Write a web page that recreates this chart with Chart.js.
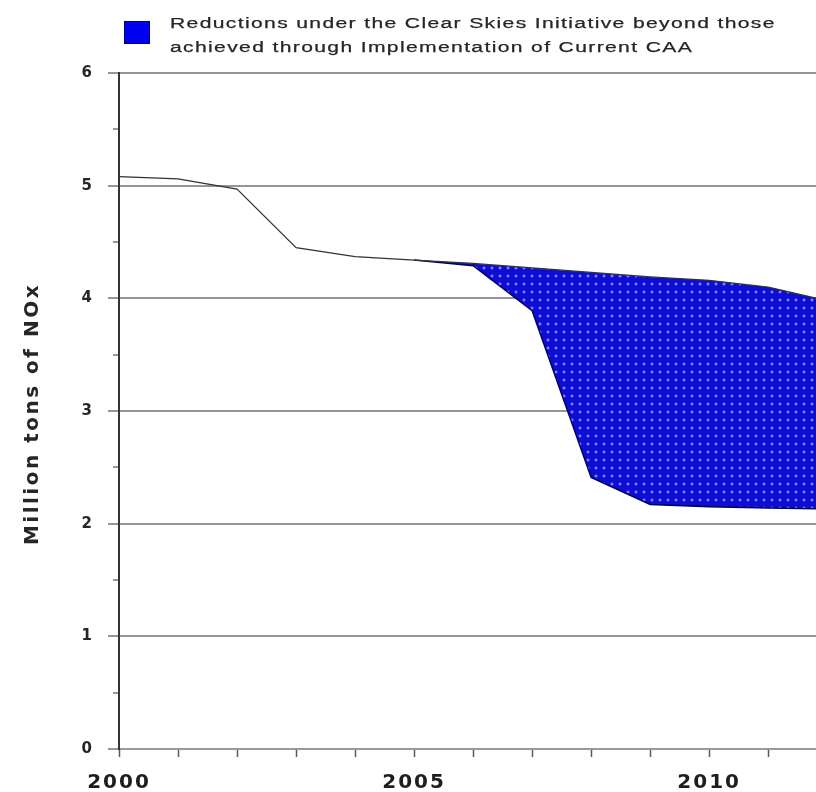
<!DOCTYPE html>
<html>
<head>
    <meta charset="UTF-8">
    <title>Clear Skies NOx Reductions</title>
    <script src="https://cdn.jsdelivr.net/npm/chart.js"></script>
    <style>
        body { margin: 0; background: #fff; }
        #wrap { position: relative; width: 816px; height: 792px; }
        #legend {
            position: absolute; left: 124px; top: 11px;
            font-family: "Liberation Sans", Arial, sans-serif;
            font-size: 15.5px; line-height: 24px;
            color: #262626;
        }
        #legend .box {
            position: absolute; left: 0; top: 10px; width: 24px; height: 21px;
            background: #0000f2; border: 1px solid #00007a;
        }
        #legend .txt {
            position: absolute; left: 46px; top: 0; white-space: nowrap;
            letter-spacing: 1px;
            transform: scaleX(1.36); transform-origin: left top;
            -webkit-text-stroke: 0.25px #262626;
        }
    </style>
</head>
<body>
<div id="wrap">
    <canvas id="nox-chart" width="816" height="792"></canvas>
    <div id="legend">
        <div class="box"></div>
        <div class="txt">Reductions under the Clear Skies Initiative beyond those<br>achieved through Implementation of Current CAA</div>
    </div>
</div>

<script>
    // data
    const years = [2000, 2001, 2002, 2003, 2004, 2005, 2006, 2007, 2008, 2009, 2010, 2011, 2012];
    const currentCAA = [5.08, 5.06, 4.97, 4.45, 4.37, 4.34, 4.31, 4.27, 4.23, 4.19, 4.16, 4.10, 3.98];
    const clearSkiesYears = [2005, 2006, 2007, 2008, 2009, 2010, 2011, 2012];
    const clearSkies = [4.34, 4.29, 3.89, 2.41, 2.17, 2.15, 2.14, 2.13];
    const xLabels = [2000, 2005, 2010];
    const yTitle = 'Million tons of NOx';

    // dotted blue fill like the original
    function makePattern() {
        const c = document.createElement('canvas');
        c.width = 8; c.height = 8;
        const g = c.getContext('2d');
        g.fillStyle = '#0d0dd4';
        g.fillRect(0, 0, 8, 8);
        g.fillStyle = '#3434e6';
        g.fillRect(3, 2, 2, 4);
        g.fillRect(2, 3, 4, 2);
        g.fillStyle = '#8080ff';
        g.fillRect(3, 3, 2, 2);
        return g.createPattern(c, 'repeat');
    }

    const ctx = document.getElementById('nox-chart').getContext('2d');

    const spacingPlugin = {
        id: 'spacing',
        beforeDraw(chart) { chart.ctx.letterSpacing = '2px'; },
        afterDraw(chart) {
            const c = chart.ctx;
            const area = chart.chartArea;
            c.letterSpacing = '0px';
            c.save();
            c.translate(33, (area.top + area.bottom) / 2 + 3);
            c.rotate(-Math.PI / 2);
            c.font = 'bold 20px "DejaVu Sans", sans-serif';
            c.letterSpacing = '2.5px';
            c.textAlign = 'center';
            c.textBaseline = 'middle';
            c.fillStyle = '#262626';
            c.fillText(yTitle, 0, 0);
            c.restore();
            c.letterSpacing = '0px';
        }
    };

    const chart = new Chart(ctx, {
        type: 'line',
        data: {
            datasets: [{
                label: 'Current CAA',
                data: years.map((y, i) => ({ x: y, y: currentCAA[i] })),
                borderColor: '#333',
                borderWidth: 1.2,
                pointRadius: 0,
                fill: false,
                tension: 0
            }, {
                label: 'Clear Skies',
                data: clearSkiesYears.map((y, i) => ({ x: y, y: clearSkies[i] })),
                borderColor: '#000060',
                borderWidth: 1.5,
                pointRadius: 0,
                backgroundColor: makePattern(),
                fill: { target: 0 },
                tension: 0
            }]
        },
        options: {
            responsive: false,
            animation: false,
            layout: { padding: { top: 73, left: 0, right: 0, bottom: 0 } },
            plugins: {
                legend: { display: false },
                tooltip: { enabled: false }
            },
            scales: {
                x: {
                    type: 'linear',
                    min: 2000,
                    max: 2011.81,
                    afterFit: (s) => { s.height = 43; },
                    border: { color: '#999', width: 2 },
                    grid: {
                        drawOnChartArea: false,
                        tickLength: 8,
                        tickColor: '#5a5a5a',
                        tickWidth: 1.5
                    },
                    ticks: {
                        stepSize: 1,
                        includeBounds: false,
                        autoSkip: false,
                        maxRotation: 0,
                        padding: 14,
                        color: '#1e1e1e',
                        font: { family: '"DejaVu Sans", sans-serif', size: 20, weight: 'bold' },
                        callback: (v) => xLabels.includes(v) ? String(v) : ''
                    }
                },
                y: {
                    min: 0,
                    max: 6,
                    afterFit: (s) => { s.width = 119; },
                    border: { color: '#333', width: 2 },
                    grid: {
                        tickLength: 11,
                        lineWidth: 2,
                        color: (c) => c.tick && c.tick.value % 1 === 0 ? '#969696' : 'rgba(0,0,0,0)',
                        tickColor: (c) => c.tick && c.tick.value % 1 === 0 ? '#969696' : '#777',
                        tickWidth: (c) => c.tick && c.tick.value % 1 === 0 ? 2 : 1.5,
                        tickBorderDash: (c) => c.tick && c.tick.value % 1 === 0 ? [] : [6, 5],
                        tickBorderDashOffset: (c) => c.tick && c.tick.value % 1 === 0 ? 0 : 6
                    },
                    ticks: {
                        stepSize: 0.5,
                        padding: 14,
                        color: '#262626',
                        font: { family: '"DejaVu Sans", sans-serif', size: 15, weight: 'bold' },
                        callback: (v) => v % 1 === 0 ? String(v) : ''
                    }
                }
            }
        },
        plugins: [spacingPlugin]
    });
</script>
</body>
</html>
